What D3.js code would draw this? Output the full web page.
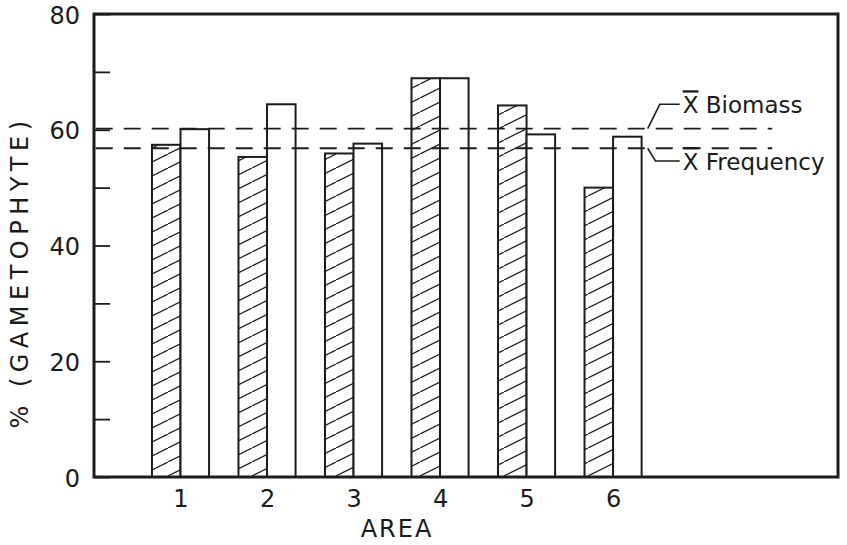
<!DOCTYPE html>
<html>
<head>
<meta charset="utf-8">
<script src="https://cdn.jsdelivr.net/npm/d3@7"></script>
<style>
  html, body { margin: 0; padding: 0; background: #fff; }
  svg { display: block; }
  text { font-family: "DejaVu Sans", "Liberation Sans", sans-serif; fill: #1a1a1a; }
</style>
</head>
<body>
<svg id="chart" width="847" height="545"></svg>
<script>
// ---- data ----
const categories = ["1", "2", "3", "4", "5", "6"];
const hatchedValues = [57.4, 55.3, 55.9, 68.9, 64.2, 50.0];
const openValues = [60.1, 64.4, 57.6, 68.9, 59.2, 58.8];
const meanBiomass = 60.2;
const meanFrequency = 56.8;
const yTicks = [0, 10, 20, 30, 40, 50, 60, 70, 80];
const yTickLabels = ["0", "", "20", "", "40", "", "60", "", "80"];
const yTitle = "% (GAMETOPHYTE)";
const xTitle = "AREA";
const legendLabels = ["Biomass", "Frequency"];

// ---- layout ----
const svg = d3.select("#chart");
const x = d3.scaleLinear().domain([0, 8.6]).range([94, 838]);
const y = d3.scaleLinear().domain([0, 80]).range([477, 14]);
const barW = 0.33;
const ink = "#1c1c1c";

// hatch pattern
const defs = svg.append("defs");
const pat = defs.append("pattern")
  .attr("id", "hatch").attr("patternUnits", "userSpaceOnUse")
  .attr("width", 28).attr("height", 14);
pat.append("rect").attr("width", 28).attr("height", 14).attr("fill", "#fff");
pat.append("line").attr("x1", -2).attr("y1", 15).attr("x2", 30).attr("y2", -1)
  .attr("stroke", ink).attr("stroke-width", 1.2);

// bars
const g = svg.append("g");
categories.forEach((c, i) => {
  const cx = i + 1;
  g.append("rect")
    .attr("x", x(cx - barW)).attr("y", y(hatchedValues[i]))
    .attr("width", x(cx) - x(cx - barW)).attr("height", y(0) - y(hatchedValues[i]))
    .attr("fill", "url(#hatch)").attr("stroke", ink).attr("stroke-width", 2);
  g.append("rect")
    .attr("x", x(cx)).attr("y", y(openValues[i]))
    .attr("width", x(cx + barW) - x(cx)).attr("height", y(0) - y(openValues[i]))
    .attr("fill", "#fff").attr("stroke", ink).attr("stroke-width", 2);
});

// mean dashed lines
[meanBiomass, meanFrequency].forEach(m => {
  svg.append("line")
    .attr("x1", x(0.02)).attr("x2", x(7.84))
    .attr("y1", y(m)).attr("y2", y(m))
    .attr("stroke", ink).attr("stroke-width", 1.8)
    .attr("stroke-dasharray", "17,11");
});

// leaders + labels
const leaders = [
  { m: meanBiomass, knee: [6.54, 64.4], end: [6.77, 64.4], label: legendLabels[0] },
  { m: meanFrequency, knee: [6.49, 54.6], end: [6.77, 54.6], label: legendLabels[1] }
];
leaders.forEach(L => {
  svg.append("path")
    .attr("d", d3.line()([[x(6.4), y(L.m)], [x(L.knee[0]), y(L.knee[1])], [x(L.end[0]), y(L.end[1])]]))
    .attr("fill", "none").attr("stroke", ink).attr("stroke-width", 1.6);
  const t = svg.append("text")
    .attr("x", x(L.end[0]) + 3).attr("y", y(L.end[1]) + 9)
    .attr("font-size", 23);
  t.append("tspan").style("text-decoration", "overline").text("X");
  t.append("tspan").text(" " + L.label);
});

// y axis
const yAxis = d3.axisLeft(y).tickValues(yTicks)
  .tickFormat((d, i) => yTickLabels[i]).tickSize(-16).tickPadding(14);
const ya = svg.append("g").attr("transform", `translate(${x(0)},0)`).call(yAxis);
ya.select(".domain").remove();
ya.selectAll(".tick line").attr("stroke", ink).attr("stroke-width", 1.8);
ya.selectAll(".tick text").attr("font-size", 24).attr("dy", "0.38em")
  .attr("font-family", "DejaVu Sans").attr("fill", ink);

// x axis
const xAxis = d3.axisBottom(x).tickValues(categories.map((c, i) => i + 1))
  .tickFormat((d, i) => categories[i]).tickSize(0).tickPadding(13);
const xa = svg.append("g").attr("transform", `translate(0,${y(0)})`).call(xAxis);
xa.select(".domain").remove();
xa.selectAll(".tick text").attr("font-size", 24)
  .attr("font-family", "DejaVu Sans").attr("fill", ink);

// frame
svg.append("rect")
  .attr("x", x(0)).attr("y", y(80))
  .attr("width", x(8.6) - x(0)).attr("height", y(0) - y(80))
  .attr("fill", "none").attr("stroke", ink).attr("stroke-width", 3);

// titles
svg.append("text")
  .attr("transform", `translate(28,272) rotate(-90)`)
  .attr("text-anchor", "middle").attr("font-size", 24).attr("letter-spacing", 5.5)
  .text(yTitle);
svg.append("text")
  .attr("x", 397).attr("y", 537).attr("text-anchor", "middle")
  .attr("font-size", 24).attr("letter-spacing", 2)
  .text(xTitle);
</script>
</body>
</html>
